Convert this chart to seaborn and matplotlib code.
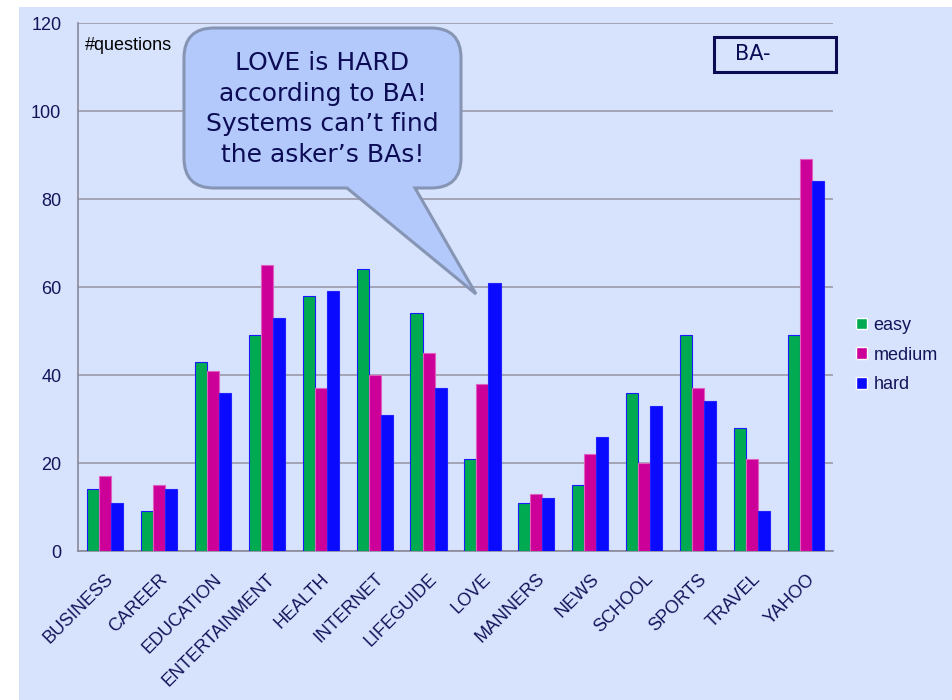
import matplotlib
matplotlib.use("Agg")
import matplotlib.pyplot as plt
from matplotlib.patches import Rectangle, PathPatch
from matplotlib.path import Path
import seaborn as sns
import pandas as pd

# ---- data -------------------------------------------------------------
categories = ["BUSINESS", "CAREER", "EDUCATION", "ENTERTAINMENT", "HEALTH",
              "INTERNET", "LIFEGUIDE", "LOVE", "MANNERS", "NEWS", "SCHOOL",
              "SPORTS", "TRAVEL", "YAHOO"]
easy = [14, 9, 43, 49, 58, 64, 54, 21, 11, 15, 36, 49, 28, 49]
medium = [17, 15, 41, 65, 37, 40, 45, 38, 13, 22, 20, 37, 21, 89]
hard = [11, 14, 36, 53, 59, 31, 37, 61, 12, 26, 33, 34, 9, 84]
levels = ["easy", "medium", "hard"]
y_ticks = [0, 20, 40, 60, 80, 100, 120]

df = pd.DataFrame({
    "category": categories * 3,
    "level": ["easy"] * len(easy) + ["medium"] * len(medium) + ["hard"] * len(hard),
    "count": easy + medium + hard,
})

# ---- style ------------------------------------------------------------
sns.set_theme(style="white")
plt.rcParams["font.family"] = ["Liberation Sans", "DejaVu Sans"]

BG = "#d7e2fd"
NAVY = "#14145a"
palette = {"easy": "#00aa50", "medium": "#cc0099", "hard": "#0a0aff"}
edges = {"easy": "#1a1aff", "medium": "#e060c0", "hard": "#2222ff"}

W, H = 953, 700
fig = plt.figure(figsize=(W / 100, H / 100), dpi=100, facecolor="white")

def fx(x):
    return x / W

def fy(y):
    return 1 - y / H

# slide-coloured backdrop
fig.patches.append(Rectangle((fx(19), 0), 1 - fx(19), fy(7), transform=fig.transFigure,
                             facecolor=BG, edgecolor="none", zorder=-5))

ax = fig.add_axes([fx(78), fy(551), fx(833) - fx(78), fy(23) - fy(551)])
ax.set_zorder(1)
ax.set_facecolor(BG)
ax.patch.set_alpha(0)

sns.barplot(data=df, x="category", y="count", hue="level", hue_order=levels,
            order=categories, palette=palette, width=0.67, saturation=1,
            ax=ax, zorder=3)

for cont, lvl in zip(ax.containers, levels):
    for bar in cont:
        bar.set_edgecolor(edges[lvl])
        bar.set_linewidth(0.8)

ax.set_ylim(0, 120)
ax.set_xlim(-0.5, len(categories) - 0.5)
ax.set_yticks(y_ticks)
ax.set_yticklabels([str(v) for v in y_ticks], fontsize=13, color=NAVY)
ax.yaxis.grid(True, color="#9a9aaa", linewidth=1.2, zorder=1)
ax.set_axisbelow(True)
ax.set_xlabel("")
ax.set_ylabel("")

for side in ("top", "right"):
    ax.spines[side].set_visible(False)
for side in ("left", "bottom"):
    ax.spines[side].set_color("#8a8a9a")
    ax.spines[side].set_linewidth(1.2)

# category labels centred under groups, tick marks on group boundaries
ax.set_xticks(range(len(categories)))
ax.set_xticklabels(categories, rotation=45, ha="right", rotation_mode="anchor",
                   fontsize=13, color=NAVY)
ax.tick_params(axis="x", length=0, pad=14)
ax.set_xticks([i - 0.5 for i in range(len(categories) + 1)], minor=True)
ax.tick_params(axis="x", which="minor", direction="out", length=6, color="#8a8a9a", width=1.2)
ax.tick_params(axis="y", direction="out", length=6, color="#8a8a9a", width=1.2, pad=6)

# legend at the right of the plot area
handles, labels = ax.get_legend_handles_labels()
ax.legend(handles, labels, loc="center left", bbox_to_anchor=(fx(840), fy(355)),
          bbox_transform=fig.transFigure, frameon=False, fontsize=13,
          labelcolor=NAVY, handlelength=0.6, handleheight=0.6, handletextpad=0.35,
          labelspacing=0.7)

fig.text(fx(85), fy(46), "#questions", fontsize=13, color="black", va="center", ha="left",
         zorder=4)

# "BA-" box
fig.patches.append(Rectangle((fx(714), fy(72)), fx(836) - fx(714), fy(37) - fy(72),
                             transform=fig.transFigure, facecolor="none",
                             edgecolor="#0c0c55", linewidth=2.2, zorder=5))
fig.text(fx(735), fy(54), "BA-", fontsize=15, color="#0c0c55", va="center", ha="left",
         family=["DejaVu Sans"], zorder=5)

# speech-bubble callout pointing at LOVE
x0, x1, y0, y1, r = 184, 461, 28, 188, 30
tail_l, tail_r, tip = 347, 415, (476, 294)
pts = [
    ((x0 + r, y0), Path.MOVETO),
    ((x1 - r, y0), Path.LINETO),
    ((x1, y0), Path.CURVE3), ((x1, y0 + r), Path.CURVE3),
    ((x1, y1 - r), Path.LINETO),
    ((x1, y1), Path.CURVE3), ((x1 - r, y1), Path.CURVE3),
    ((tail_r, y1), Path.LINETO),
    (tip, Path.LINETO),
    ((tail_l, y1), Path.LINETO),
    ((x0 + r, y1), Path.LINETO),
    ((x0, y1), Path.CURVE3), ((x0, y1 - r), Path.CURVE3),
    ((x0, y0 + r), Path.LINETO),
    ((x0, y0), Path.CURVE3), ((x0 + r, y0), Path.CURVE3),
    ((x0 + r, y0), Path.CLOSEPOLY),
]
verts = [(fx(px), fy(py)) for (px, py), _ in pts]
codes = [c for _, c in pts]
fig.patches.append(PathPatch(Path(verts, codes), transform=fig.transFigure,
                             facecolor="#b3c9fb", edgecolor="#8795b5", linewidth=2.2,
                             zorder=6))
fig.text(fx((x0 + x1) / 2), fy(109),
         "LOVE is HARD\naccording to BA!\nSystems can\u2019t find\nthe asker\u2019s BAs!",
         fontsize=18, color="#0c0c55", ha="center", va="center", linespacing=1.35,
         family=["DejaVu Sans"], zorder=7)

fig.savefig("out.png", dpi=100, facecolor=fig.get_facecolor())
